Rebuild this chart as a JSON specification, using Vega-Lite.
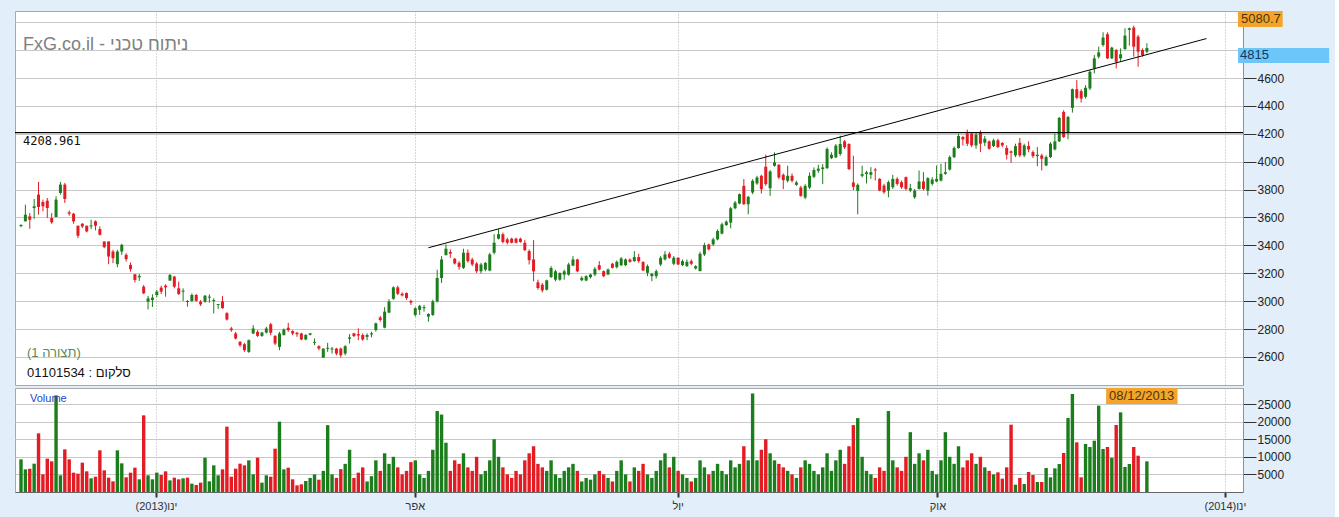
{
"$schema": "https://vega.github.io/schema/vega-lite/v6.json",
"background": "#e2eefa",
"padding": {"left": 13, "top": 10, "right": 5, "bottom": 8},
"autosize": {"type": "pad"},
"spacing": 1,
"config": {"view": {"stroke": "#a8a8a8", "fill": "white"}, "font": "Liberation Sans"},
"datasets": {
"ohlc": [
{"i":0,"o":3538,"h":3552,"l":3530,"c":3546,"v":9280},
{"i":1,"o":3572,"h":3692,"l":3572,"c":3620,"v":6440},
{"i":2,"o":3608,"h":3632,"l":3519,"c":3584,"v":6630},
{"i":3,"o":3668,"h":3733,"l":3590,"c":3680,"v":8050},
{"i":4,"o":3764,"h":3855,"l":3620,"c":3675,"v":16670},
{"i":5,"o":3711,"h":3728,"l":3644,"c":3680,"v":5020},
{"i":6,"o":3720,"h":3740,"l":3596,"c":3668,"v":9470},
{"i":7,"o":3596,"h":3632,"l":3555,"c":3565,"v":8710},
{"i":8,"o":3603,"h":3752,"l":3603,"c":3728,"v":27460},
{"i":9,"o":3776,"h":3855,"l":3764,"c":3836,"v":4740},
{"i":10,"o":3836,"h":3848,"l":3704,"c":3733,"v":12120},
{"i":11,"o":3637,"h":3651,"l":3613,"c":3627,"v":9280},
{"i":12,"o":3627,"h":3632,"l":3555,"c":3572,"v":5490},
{"i":13,"o":3541,"h":3541,"l":3452,"c":3469,"v":5210},
{"i":14,"o":3555,"h":3560,"l":3524,"c":3536,"v":8330},
{"i":15,"o":3541,"h":3541,"l":3493,"c":3500,"v":5870},
{"i":16,"o":3536,"h":3584,"l":3517,"c":3543,"v":3880},
{"i":17,"o":3572,"h":3579,"l":3507,"c":3541,"v":4360},
{"i":18,"o":3517,"h":3536,"l":3471,"c":3476,"v":11840},
{"i":19,"o":3428,"h":3428,"l":3380,"c":3387,"v":6160},
{"i":20,"o":3428,"h":3428,"l":3265,"c":3320,"v":4070},
{"i":21,"o":3356,"h":3368,"l":3272,"c":3308,"v":3030},
{"i":22,"o":3265,"h":3368,"l":3243,"c":3356,"v":11840},
{"i":23,"o":3356,"h":3411,"l":3332,"c":3404,"v":8140},
{"i":24,"o":3332,"h":3344,"l":3284,"c":3301,"v":4170},
{"i":25,"o":3260,"h":3277,"l":3212,"c":3229,"v":5490},
{"i":26,"o":3193,"h":3193,"l":3133,"c":3152,"v":6910},
{"i":27,"o":3171,"h":3195,"l":3145,"c":3181,"v":3600},
{"i":28,"o":3104,"h":3116,"l":3051,"c":3056,"v":21780},
{"i":29,"o":2996,"h":3037,"l":2941,"c":3020,"v":4740},
{"i":30,"o":3008,"h":3049,"l":2958,"c":3025,"v":3600},
{"i":31,"o":3044,"h":3080,"l":3027,"c":3068,"v":5490},
{"i":32,"o":3097,"h":3111,"l":3051,"c":3068,"v":4830},
{"i":33,"o":3111,"h":3121,"l":3032,"c":3099,"v":5870},
{"i":34,"o":3147,"h":3195,"l":3147,"c":3188,"v":3310},
{"i":35,"o":3176,"h":3181,"l":3092,"c":3104,"v":4070},
{"i":36,"o":3092,"h":3140,"l":3044,"c":3051,"v":3600},
{"i":37,"o":3068,"h":3092,"l":3001,"c":3075,"v":3880},
{"i":38,"o":3001,"h":3008,"l":2960,"c":2994,"v":4070},
{"i":39,"o":3001,"h":3056,"l":2996,"c":3044,"v":2370},
{"i":40,"o":3044,"h":3051,"l":2996,"c":3003,"v":1990},
{"i":41,"o":2996,"h":3008,"l":2965,"c":2977,"v":2650},
{"i":42,"o":2996,"h":3044,"l":2989,"c":3039,"v":9750},
{"i":43,"o":3025,"h":3049,"l":2989,"c":3032,"v":3030},
{"i":44,"o":3001,"h":3020,"l":2912,"c":3008,"v":7580},
{"i":45,"o":2972,"h":2979,"l":2945,"c":2979,"v":4740},
{"i":46,"o":2998,"h":3037,"l":2945,"c":2950,"v":6440},
{"i":47,"o":2914,"h":2921,"l":2861,"c":2868,"v":18560},
{"i":48,"o":2804,"h":2816,"l":2780,"c":2792,"v":4360},
{"i":49,"o":2768,"h":2780,"l":2725,"c":2732,"v":6630},
{"i":50,"o":2708,"h":2713,"l":2672,"c":2684,"v":8050},
{"i":51,"o":2691,"h":2701,"l":2636,"c":2648,"v":7580},
{"i":52,"o":2636,"h":2725,"l":2629,"c":2720,"v":9000},
{"i":53,"o":2768,"h":2828,"l":2763,"c":2804,"v":5020},
{"i":54,"o":2780,"h":2792,"l":2744,"c":2751,"v":9750},
{"i":55,"o":2751,"h":2780,"l":2744,"c":2775,"v":2650},
{"i":56,"o":2775,"h":2816,"l":2768,"c":2804,"v":4740},
{"i":57,"o":2835,"h":2845,"l":2756,"c":2773,"v":4360},
{"i":58,"o":2751,"h":2756,"l":2684,"c":2696,"v":12310},
{"i":59,"o":2672,"h":2780,"l":2648,"c":2768,"v":19980},
{"i":60,"o":2756,"h":2804,"l":2756,"c":2797,"v":6440},
{"i":61,"o":2809,"h":2845,"l":2780,"c":2792,"v":6910},
{"i":62,"o":2785,"h":2792,"l":2756,"c":2768,"v":3600},
{"i":63,"o":2773,"h":2780,"l":2744,"c":2763,"v":1890},
{"i":64,"o":2768,"h":2773,"l":2720,"c":2725,"v":2180},
{"i":65,"o":2725,"h":2764,"l":2720,"c":2757,"v":3130},
{"i":66,"o":2759,"h":2773,"l":2754,"c":2769,"v":4000},
{"i":67,"o":2701,"h":2732,"l":2684,"c":2708,"v":5000},
{"i":68,"o":2677,"h":2684,"l":2648,"c":2660,"v":3500},
{"i":69,"o":2595,"h":2660,"l":2595,"c":2660,"v":6000},
{"i":70,"o":2658,"h":2701,"l":2636,"c":2665,"v":19000},
{"i":71,"o":2653,"h":2672,"l":2624,"c":2660,"v":5000},
{"i":72,"o":2660,"h":2665,"l":2612,"c":2624,"v":4000},
{"i":73,"o":2660,"h":2667,"l":2595,"c":2612,"v":6500},
{"i":74,"o":2624,"h":2684,"l":2612,"c":2677,"v":8000},
{"i":75,"o":2730,"h":2764,"l":2696,"c":2740,"v":12000},
{"i":76,"o":2769,"h":2773,"l":2744,"c":2749,"v":4000},
{"i":77,"o":2764,"h":2805,"l":2720,"c":2754,"v":5500},
{"i":78,"o":2757,"h":2769,"l":2716,"c":2725,"v":7000},
{"i":79,"o":2744,"h":2769,"l":2720,"c":2757,"v":3000},
{"i":80,"o":2761,"h":2781,"l":2740,"c":2769,"v":4500},
{"i":81,"o":2793,"h":2846,"l":2781,"c":2841,"v":9000},
{"i":82,"o":2882,"h":2894,"l":2853,"c":2865,"v":6000},
{"i":83,"o":2810,"h":2957,"l":2805,"c":2925,"v":11000},
{"i":84,"o":2918,"h":3014,"l":2913,"c":2998,"v":8000},
{"i":85,"o":3017,"h":3106,"l":3010,"c":3099,"v":10000},
{"i":86,"o":3099,"h":3111,"l":3043,"c":3053,"v":7000},
{"i":87,"o":3053,"h":3063,"l":3034,"c":3041,"v":5000},
{"i":88,"o":3058,"h":3063,"l":3010,"c":3022,"v":6000},
{"i":89,"o":3002,"h":3010,"l":2973,"c":2990,"v":8500},
{"i":90,"o":2901,"h":2957,"l":2889,"c":2949,"v":9000},
{"i":91,"o":2937,"h":2973,"l":2901,"c":2966,"v":5000},
{"i":92,"o":2949,"h":2973,"l":2925,"c":2957,"v":4000},
{"i":93,"o":2889,"h":2913,"l":2853,"c":2908,"v":6000},
{"i":94,"o":2901,"h":3010,"l":2894,"c":2998,"v":12000},
{"i":95,"o":2998,"h":3226,"l":2990,"c":3166,"v":23000},
{"i":96,"o":3166,"h":3323,"l":3130,"c":3299,"v":22000},
{"i":97,"o":3330,"h":3407,"l":3328,"c":3376,"v":14000},
{"i":98,"o":3352,"h":3371,"l":3311,"c":3340,"v":6000},
{"i":99,"o":3304,"h":3311,"l":3263,"c":3270,"v":9000},
{"i":100,"o":3275,"h":3287,"l":3226,"c":3246,"v":8000},
{"i":101,"o":3239,"h":3376,"l":3231,"c":3347,"v":11000},
{"i":102,"o":3347,"h":3371,"l":3275,"c":3287,"v":7000},
{"i":103,"o":3299,"h":3311,"l":3251,"c":3263,"v":6000},
{"i":104,"o":3270,"h":3280,"l":3202,"c":3214,"v":10000},
{"i":105,"o":3214,"h":3275,"l":3198,"c":3263,"v":5000},
{"i":106,"o":3226,"h":3280,"l":3214,"c":3275,"v":6000},
{"i":107,"o":3219,"h":3347,"l":3214,"c":3335,"v":9000},
{"i":108,"o":3347,"h":3480,"l":3335,"c":3419,"v":15000},
{"i":109,"o":3448,"h":3516,"l":3443,"c":3480,"v":10000},
{"i":110,"o":3480,"h":3492,"l":3414,"c":3424,"v":7000},
{"i":111,"o":3443,"h":3455,"l":3407,"c":3419,"v":5000},
{"i":112,"o":3448,"h":3455,"l":3414,"c":3419,"v":4000},
{"i":113,"o":3448,"h":3455,"l":3414,"c":3419,"v":6000},
{"i":114,"o":3448,"h":3455,"l":3419,"c":3424,"v":5000},
{"i":115,"o":3419,"h":3438,"l":3359,"c":3366,"v":9000},
{"i":116,"o":3359,"h":3371,"l":3263,"c":3294,"v":11000},
{"i":117,"o":3299,"h":3438,"l":3142,"c":3214,"v":13000},
{"i":118,"o":3135,"h":3154,"l":3082,"c":3094,"v":8000},
{"i":119,"o":3118,"h":3130,"l":3063,"c":3077,"v":7000},
{"i":120,"o":3082,"h":3154,"l":3077,"c":3149,"v":6000},
{"i":121,"o":3173,"h":3251,"l":3166,"c":3238,"v":9000},
{"i":122,"o":3154,"h":3226,"l":3142,"c":3214,"v":5000},
{"i":123,"o":3154,"h":3207,"l":3147,"c":3202,"v":4000},
{"i":124,"o":3190,"h":3226,"l":3154,"c":3214,"v":6000},
{"i":125,"o":3190,"h":3275,"l":3183,"c":3263,"v":7000},
{"i":126,"o":3255,"h":3323,"l":3251,"c":3299,"v":8000},
{"i":127,"o":3299,"h":3304,"l":3207,"c":3214,"v":6000},
{"i":128,"o":3150,"h":3179,"l":3143,"c":3167,"v":3000},
{"i":129,"o":3148,"h":3186,"l":3143,"c":3179,"v":4000},
{"i":130,"o":3172,"h":3196,"l":3162,"c":3191,"v":3500},
{"i":131,"o":3191,"h":3244,"l":3179,"c":3232,"v":5000},
{"i":132,"o":3258,"h":3287,"l":3220,"c":3227,"v":6000},
{"i":133,"o":3215,"h":3220,"l":3172,"c":3179,"v":5000},
{"i":134,"o":3191,"h":3234,"l":3186,"c":3227,"v":4000},
{"i":135,"o":3268,"h":3275,"l":3234,"c":3239,"v":3000},
{"i":136,"o":3244,"h":3292,"l":3234,"c":3282,"v":6000},
{"i":137,"o":3258,"h":3316,"l":3251,"c":3306,"v":9000},
{"i":138,"o":3258,"h":3306,"l":3251,"c":3299,"v":5000},
{"i":139,"o":3299,"h":3306,"l":3275,"c":3282,"v":3000},
{"i":140,"o":3287,"h":3359,"l":3282,"c":3316,"v":7000},
{"i":141,"o":3316,"h":3340,"l":3275,"c":3287,"v":6000},
{"i":142,"o":3280,"h":3287,"l":3215,"c":3220,"v":8000},
{"i":143,"o":3203,"h":3263,"l":3179,"c":3251,"v":5000},
{"i":144,"o":3179,"h":3203,"l":3143,"c":3196,"v":4000},
{"i":145,"o":3179,"h":3227,"l":3162,"c":3215,"v":6000},
{"i":146,"o":3263,"h":3323,"l":3251,"c":3311,"v":9000},
{"i":147,"o":3299,"h":3359,"l":3292,"c":3335,"v":11000},
{"i":148,"o":3340,"h":3354,"l":3304,"c":3311,"v":7000},
{"i":149,"o":3268,"h":3323,"l":3258,"c":3311,"v":10000},
{"i":150,"o":3311,"h":3316,"l":3258,"c":3263,"v":6000},
{"i":151,"o":3258,"h":3299,"l":3251,"c":3287,"v":5000},
{"i":152,"o":3251,"h":3299,"l":3246,"c":3282,"v":4000},
{"i":153,"o":3287,"h":3299,"l":3258,"c":3268,"v":3000},
{"i":154,"o":3234,"h":3258,"l":3227,"c":3251,"v":4000},
{"i":155,"o":3215,"h":3354,"l":3215,"c":3340,"v":9000},
{"i":156,"o":3335,"h":3419,"l":3323,"c":3402,"v":7000},
{"i":157,"o":3407,"h":3412,"l":3364,"c":3371,"v":5000},
{"i":158,"o":3407,"h":3455,"l":3395,"c":3443,"v":6000},
{"i":159,"o":3443,"h":3515,"l":3436,"c":3503,"v":8000},
{"i":160,"o":3484,"h":3563,"l":3479,"c":3551,"v":6000},
{"i":161,"o":3546,"h":3580,"l":3539,"c":3570,"v":5000},
{"i":162,"o":3563,"h":3676,"l":3522,"c":3666,"v":9000},
{"i":163,"o":3666,"h":3719,"l":3659,"c":3707,"v":7000},
{"i":164,"o":3700,"h":3772,"l":3695,"c":3767,"v":8000},
{"i":165,"o":3827,"h":3875,"l":3690,"c":3695,"v":13000},
{"i":166,"o":3695,"h":3755,"l":3623,"c":3748,"v":9000},
{"i":167,"o":3779,"h":3875,"l":3767,"c":3863,"v":28000},
{"i":168,"o":3844,"h":3899,"l":3834,"c":3887,"v":9000},
{"i":169,"o":3899,"h":3906,"l":3772,"c":3803,"v":12000},
{"i":170,"o":3964,"h":4050,"l":3827,"c":3839,"v":15000},
{"i":171,"o":3810,"h":3940,"l":3755,"c":3930,"v":11000},
{"i":172,"o":3971,"h":4067,"l":3964,"c":3995,"v":9000},
{"i":173,"o":3978,"h":3983,"l":3875,"c":3887,"v":8000},
{"i":174,"o":3906,"h":3916,"l":3803,"c":3868,"v":7000},
{"i":175,"o":3863,"h":3971,"l":3851,"c":3899,"v":6000},
{"i":176,"o":3899,"h":3916,"l":3851,"c":3863,"v":5000},
{"i":177,"o":3834,"h":3863,"l":3827,"c":3851,"v":4000},
{"i":178,"o":3815,"h":3827,"l":3748,"c":3755,"v":7000},
{"i":179,"o":3743,"h":3839,"l":3731,"c":3827,"v":9000},
{"i":180,"o":3815,"h":3923,"l":3803,"c":3899,"v":8000},
{"i":181,"o":3892,"h":3959,"l":3882,"c":3940,"v":6000},
{"i":182,"o":3935,"h":3978,"l":3920,"c":3950,"v":5000},
{"i":183,"o":3947,"h":3983,"l":3839,"c":3959,"v":7000},
{"i":184,"o":3954,"h":4103,"l":3947,"c":4091,"v":11000},
{"i":185,"o":4026,"h":4067,"l":4019,"c":4050,"v":6000},
{"i":186,"o":4031,"h":4127,"l":4026,"c":4115,"v":9000},
{"i":187,"o":4055,"h":4187,"l":4043,"c":4127,"v":12000},
{"i":188,"o":4146,"h":4156,"l":4091,"c":4103,"v":8000},
{"i":189,"o":4127,"h":4132,"l":3940,"c":3947,"v":13000},
{"i":190,"o":3851,"h":4043,"l":3796,"c":3820,"v":19000},
{"i":191,"o":3791,"h":3844,"l":3623,"c":3834,"v":21000},
{"i":192,"o":3899,"h":3971,"l":3887,"c":3911,"v":10000},
{"i":193,"o":3911,"h":3935,"l":3844,"c":3923,"v":6000},
{"i":194,"o":3906,"h":3961,"l":3877,"c":3925,"v":5000},
{"i":195,"o":3944,"h":3954,"l":3865,"c":3937,"v":4000},
{"i":196,"o":3877,"h":3882,"l":3788,"c":3793,"v":7000},
{"i":197,"o":3829,"h":3841,"l":3769,"c":3781,"v":6000},
{"i":198,"o":3793,"h":3865,"l":3745,"c":3853,"v":23000},
{"i":199,"o":3817,"h":3906,"l":3805,"c":3877,"v":9000},
{"i":200,"o":3877,"h":3889,"l":3829,"c":3841,"v":7000},
{"i":201,"o":3853,"h":3865,"l":3805,"c":3817,"v":6000},
{"i":202,"o":3889,"h":3894,"l":3793,"c":3805,"v":10000},
{"i":203,"o":3793,"h":3841,"l":3781,"c":3810,"v":17000},
{"i":204,"o":3745,"h":3805,"l":3733,"c":3793,"v":8000},
{"i":205,"o":3805,"h":3937,"l":3800,"c":3858,"v":11000},
{"i":206,"o":3858,"h":3925,"l":3793,"c":3805,"v":9000},
{"i":207,"o":3793,"h":3889,"l":3757,"c":3882,"v":12000},
{"i":208,"o":3841,"h":3889,"l":3829,"c":3872,"v":6000},
{"i":209,"o":3858,"h":3973,"l":3853,"c":3877,"v":5000},
{"i":210,"o":3865,"h":3985,"l":3858,"c":3913,"v":9000},
{"i":211,"o":3913,"h":3997,"l":3906,"c":3925,"v":17000},
{"i":212,"o":3944,"h":4045,"l":3937,"c":4033,"v":10000},
{"i":213,"o":4033,"h":4110,"l":4026,"c":4098,"v":8000},
{"i":214,"o":4098,"h":4201,"l":4093,"c":4184,"v":13000},
{"i":215,"o":4177,"h":4184,"l":4117,"c":4160,"v":7000},
{"i":216,"o":4201,"h":4230,"l":4112,"c":4129,"v":9000},
{"i":217,"o":4201,"h":4213,"l":4105,"c":4117,"v":11000},
{"i":218,"o":4117,"h":4213,"l":4093,"c":4194,"v":8000},
{"i":219,"o":4208,"h":4225,"l":4069,"c":4129,"v":10000},
{"i":220,"o":4136,"h":4184,"l":4112,"c":4165,"v":7000},
{"i":221,"o":4146,"h":4153,"l":4086,"c":4093,"v":6000},
{"i":222,"o":4112,"h":4165,"l":4105,"c":4153,"v":5000},
{"i":223,"o":4153,"h":4165,"l":4098,"c":4105,"v":5590},
{"i":224,"o":4134,"h":4141,"l":4105,"c":4117,"v":3790},
{"i":225,"o":4098,"h":4117,"l":4016,"c":4050,"v":7010},
{"i":226,"o":4074,"h":4081,"l":3992,"c":4064,"v":19130},
{"i":227,"o":4045,"h":4129,"l":4033,"c":4112,"v":2080},
{"i":228,"o":4136,"h":4170,"l":4033,"c":4045,"v":3980},
{"i":229,"o":4045,"h":4129,"l":4033,"c":4117,"v":2270},
{"i":230,"o":4112,"h":4146,"l":4069,"c":4088,"v":5680},
{"i":231,"o":4069,"h":4081,"l":4026,"c":4040,"v":4830},
{"i":232,"o":4040,"h":4105,"l":3968,"c":4050,"v":2840},
{"i":233,"o":4045,"h":4057,"l":3937,"c":4021,"v":2840},
{"i":234,"o":3973,"h":4045,"l":3968,"c":4033,"v":6820},
{"i":235,"o":4033,"h":4141,"l":4026,"c":4129,"v":4170},
{"i":236,"o":4088,"h":4201,"l":4081,"c":4146,"v":6720},
{"i":237,"o":4146,"h":4321,"l":4141,"c":4314,"v":7950},
{"i":238,"o":4357,"h":4369,"l":4170,"c":4177,"v":11080},
{"i":239,"o":4213,"h":4328,"l":4160,"c":4321,"v":21020},
{"i":240,"o":4386,"h":4525,"l":4352,"c":4520,"v":27840},
{"i":241,"o":4520,"h":4585,"l":4448,"c":4458,"v":14110},
{"i":242,"o":4506,"h":4520,"l":4424,"c":4453,"v":4170},
{"i":243,"o":4465,"h":4549,"l":4453,"c":4530,"v":13640},
{"i":244,"o":4525,"h":4657,"l":4513,"c":4645,"v":12780},
{"i":245,"o":4669,"h":4765,"l":4633,"c":4741,"v":14580},
{"i":246,"o":4753,"h":4825,"l":4741,"c":4784,"v":24530},
{"i":247,"o":4837,"h":4928,"l":4825,"c":4890,"v":12220},
{"i":248,"o":4914,"h":4928,"l":4736,"c":4741,"v":12780},
{"i":249,"o":4741,"h":4825,"l":4736,"c":4818,"v":9750},
{"i":250,"o":4801,"h":4808,"l":4669,"c":4717,"v":19030},
{"i":251,"o":4741,"h":4813,"l":4717,"c":4770,"v":22630},
{"i":252,"o":4808,"h":4957,"l":4801,"c":4904,"v":7100},
{"i":253,"o":4945,"h":4962,"l":4832,"c":4957,"v":7950},
{"i":254,"o":4962,"h":4976,"l":4753,"c":4825,"v":12780},
{"i":255,"o":4897,"h":4909,"l":4681,"c":4789,"v":10320},
{"i":256,"o":4801,"h":4813,"l":4753,"c":4765,"v":0},
{"i":257,"o":4789,"h":4849,"l":4777,"c":4815,"v":8710}
],
"trend": [{"i": 93.0, "p": 3383}, {"i": 270.6, "p": 4883}]
},
"vconcat": [
{
"width": 1228, "height": 374,
"layer": [
{
"data": {"name": "ohlc"},
"mark": {"type": "rule", "strokeWidth": 1},
"encoding": {
"x": {"field": "i", "type": "quantitative", "scale": {"domain": [-0.23, 277.8], "nice": false, "zero": false},
"axis": {"values": [30.8, 89.9, 149.9, 209.2, 274.8], "tickCount": 20, "grid": true, "gridDash": [1, 2], "gridColor": "#b0b0b0", "labels": false, "ticks": false, "domain": false, "title": null}},
"y": {"field": "l", "type": "quantitative", "scale": {"domain": [2398.7, 5080.7], "nice": false, "zero": false},
"axis": {"orient": "right", "values": [2600, 2800, 3000, 3200, 3400, 3600, 3800, 4000, 4200, 4400, 4600, 4800, 5000], "tickCount": 30, "labelExpr": "datum.value >= 4800 ? '' : format(datum.value, 'd')", "labelOverlap": false, "grid": true, "gridColor": "#c8c8c8", "tickSize": 13, "tickColor": "#333333", "domainColor": "#8096ad", "labelFontSize": 12, "labelColor": "#222222", "labelPadding": 1, "labelFont": "Liberation Sans", "title": null}},
"y2": {"field": "h"},
"color": {"condition": {"test": "datum.c >= datum.o", "value": "#1c7d1c"}, "value": "#e31b23"}
}
},
{
"data": {"name": "ohlc"},
"mark": {"type": "bar", "size": 3},
"encoding": {
"x": {"field": "i", "type": "quantitative"},
"y": {"field": "o", "type": "quantitative"},
"y2": {"field": "c"},
"color": {"condition": {"test": "datum.c >= datum.o", "value": "#1c7d1c"}, "value": "#e31b23"}
}
},
{
"data": {"name": "trend"},
"mark": {"type": "line", "color": "black", "strokeWidth": 1},
"encoding": {"x": {"field": "i", "type": "quantitative"}, "y": {"field": "p", "type": "quantitative"}}
},
{
"data": {"values": [{"p": 4208.961}]},
"layer": [
{"mark": {"type": "rule", "color": "black", "strokeWidth": 1.3}, "encoding": {"y": {"field": "p", "type": "quantitative"}}},
{"mark": {"type": "text", "align": "left", "baseline": "top", "dx": 3, "dy": 3, "fontSize": 12, "font": "DejaVu Sans Mono", "color": "#111111"},
"encoding": {"x": {"datum": -0.23}, "y": {"field": "p", "type": "quantitative"}, "text": {"field": "p", "type": "quantitative", "format": ".3f"}}}
]
},
{
"data": {"values": [{"t": "FxG.co.il - ניתוח טכני", "p": 4835}]},
"mark": {"type": "text", "align": "left", "baseline": "middle", "dx": 3, "fontSize": 18, "font": "Liberation Sans", "color": "#808080"},
"encoding": {"x": {"datum": -0.23}, "y": {"field": "p", "type": "quantitative"}, "text": {"field": "t"}}
},
{
"data": {"values": [{"t": "(תצורה 1)", "p": 2629, "k": "a"}, {"t": "01101534 : סלקום", "p": 2485, "k": "b"}]},
"mark": {"type": "text", "align": "left", "baseline": "middle", "dx": 7, "fontSize": 13, "font": "Liberation Sans"},
"encoding": {"x": {"datum": -0.23}, "y": {"field": "p", "type": "quantitative"}, "text": {"field": "t"},
"color": {"field": "k", "type": "nominal", "scale": {"domain": ["a", "b"], "range": ["#5b8a5b", "#111111"]}, "legend": null}}
},
{
"data": {"values": [{"t": "5080.7", "p": 5080.7}]},
"layer": [
{"mark": {"type": "rect", "color": "#f5a42a"}, "encoding": {"x": {"datum": 277.8}, "x2": {"datum": 288.0}, "y": {"field": "p", "type": "quantitative"}, "y2": {"datum": 4966}}},
{"mark": {"type": "text", "align": "left", "baseline": "top", "dx": 3, "dy": 2, "fontSize": 13, "font": "Liberation Sans", "color": "#4a3510"},
"encoding": {"x": {"datum": 277.8}, "y": {"field": "p", "type": "quantitative"}, "text": {"field": "t"}}}
]
},
{
"data": {"values": [{"t": "4815", "p": 4815}]},
"layer": [
{"mark": {"type": "rect", "color": "#6cc6f7"}, "encoding": {"x": {"datum": 277.8}, "x2": {"datum": 298.6}, "y": {"field": "p", "type": "quantitative"}, "y2": {"datum": 4707}}},
{"mark": {"type": "text", "align": "left", "baseline": "top", "dx": 2, "dy": 1, "fontSize": 13, "font": "Liberation Sans", "color": "#1b3560"},
"encoding": {"x": {"datum": 277.8}, "y": {"field": "p", "type": "quantitative"}, "text": {"field": "t"}}}
]
}
]
},
{
"width": 1228, "height": 104,
"layer": [
{
"data": {"name": "ohlc"},
"mark": {"type": "bar", "size": 3.4},
"encoding": {
"x": {"field": "i", "type": "quantitative", "scale": {"domain": [-0.23, 277.8], "nice": false, "zero": false},
"axis": {"values": [30.8, 89.9, 149.9, 209.2, 274.8], "tickCount": 20, "labelExpr": "datum.value < 60 ? '(2013)ינו' : datum.value < 120 ? 'אפר' : datum.value < 180 ? 'יול' : datum.value < 240 ? 'אוק' : '(2014)ינו'", "labelOverlap": false, "grid": true, "gridDash": [1, 2], "gridColor": "#b0b0b0", "tickSize": 5, "tickWidth": 2, "tickColor": "#333333", "domainColor": "#666666", "labelFontSize": 11, "labelColor": "#333333", "labelPadding": 3, "labelFont": "Liberation Sans", "title": null}},
"y": {"field": "v", "type": "quantitative", "scale": {"domain": [0, 29550], "nice": false},
"axis": {"orient": "right", "values": [5000, 10000, 15000, 20000, 25000], "tickCount": 20, "format": "d", "labelOverlap": false, "grid": true, "gridColor": "#c8c8c8", "tickSize": 13, "tickColor": "#333333", "domainColor": "#8096ad", "labelFontSize": 12, "labelColor": "#222222", "labelPadding": 1, "labelFont": "Liberation Sans", "title": null}},
"color": {"condition": {"test": "datum.c >= datum.o", "value": "#1c7d1c"}, "value": "#e31b23"}
}
},
{
"data": {"values": [{"t": "Volume", "v": 26560}]},
"mark": {"type": "text", "align": "left", "baseline": "middle", "dx": 10, "fontSize": 11, "font": "Liberation Sans", "color": "#2a44c8"},
"encoding": {"x": {"datum": -0.23}, "y": {"field": "v", "type": "quantitative"}, "text": {"field": "t"}}
},
{
"data": {"values": [{"t": "08/12/2013", "v": 29550}]},
"layer": [
{"mark": {"type": "rect", "color": "#f5a42a"}, "encoding": {"x": {"datum": 247.7}, "x2": {"datum": 264.0}, "y": {"field": "v", "type": "quantitative"}, "y2": {"datum": 25006}}},
{"mark": {"type": "text", "align": "center", "baseline": "top", "dy": 2, "fontSize": 13, "font": "Liberation Sans", "color": "#4a3510"},
"encoding": {"x": {"datum": 255.8}, "y": {"field": "v", "type": "quantitative"}, "text": {"field": "t"}}}
]
}
]
}
]
}
